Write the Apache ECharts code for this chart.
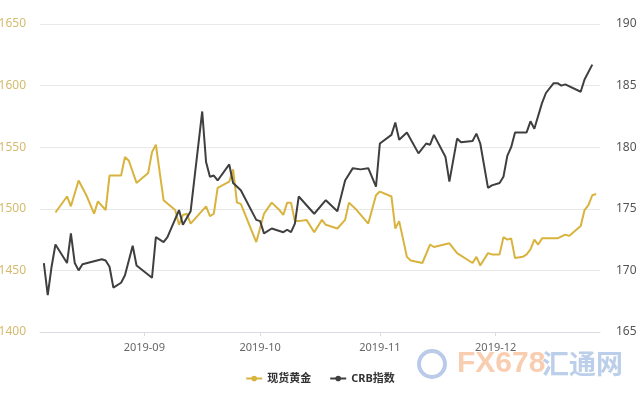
<!DOCTYPE html>
<html lang="zh">
<head>
    <meta charset="UTF-8">
    <title>现货黄金 与 CRB指数</title>
    <style>
        html, body { margin: 0; padding: 0; background: #fff; }
        #main { width: 640px; height: 400px; }
    </style>
</head>
<body>
<div id="main"></div>
<script src="https://cdn.jsdelivr.net/npm/echarts@6/dist/echarts.min.js"></script>
<script type="text/javascript">
    // 现货黄金
    var goldDates = ['2019-08-09', '2019-08-12', '2019-08-13', '2019-08-15', '2019-08-17', '2019-08-19', '2019-08-20',
        '2019-08-22', '2019-08-23', '2019-08-26', '2019-08-27', '2019-08-28', '2019-08-30', '2019-09-02',
        '2019-09-03', '2019-09-04', '2019-09-06', '2019-09-09', '2019-09-10', '2019-09-11', '2019-09-12',
        '2019-09-13', '2019-09-17', '2019-09-18', '2019-09-19', '2019-09-20', '2019-09-23', '2019-09-24',
        '2019-09-25', '2019-09-26', '2019-09-30', '2019-10-02', '2019-10-04', '2019-10-06', '2019-10-07',
        '2019-10-08', '2019-10-09', '2019-10-10', '2019-10-11', '2019-10-13', '2019-10-15', '2019-10-17',
        '2019-10-18', '2019-10-21', '2019-10-23', '2019-10-24', '2019-10-26', '2019-10-29', '2019-10-31',
        '2019-11-01', '2019-11-04', '2019-11-05', '2019-11-06', '2019-11-08', '2019-11-09', '2019-11-12',
        '2019-11-14', '2019-11-15', '2019-11-19', '2019-11-21', '2019-11-25', '2019-11-26', '2019-11-27',
        '2019-11-29', '2019-11-30', '2019-12-02', '2019-12-03', '2019-12-04', '2019-12-05', '2019-12-06',
        '2019-12-08', '2019-12-09', '2019-12-10', '2019-12-11', '2019-12-12', '2019-12-13', '2019-12-17',
        '2019-12-19', '2019-12-20', '2019-12-23', '2019-12-24', '2019-12-25', '2019-12-26', '2019-12-27'];
    var goldValues = [1497, 1510, 1502, 1523, 1511, 1496, 1506,
        1499, 1527, 1527, 1542, 1539, 1521, 1529,
        1546, 1552, 1507, 1499, 1487, 1495, 1496,
        1488, 1502, 1494, 1496, 1517, 1522, 1532,
        1505, 1504, 1473, 1496, 1505, 1499, 1495,
        1505, 1505, 1490, 1490, 1491, 1481, 1491,
        1487, 1484, 1491, 1505, 1499, 1488, 1511,
        1514, 1510, 1484, 1490, 1461, 1458, 1456,
        1471, 1469, 1472, 1464, 1456, 1461, 1454,
        1464, 1463, 1463, 1477, 1475, 1476, 1460,
        1461, 1463, 1467, 1475, 1471, 1476, 1476,
        1479, 1478, 1486, 1499, 1503, 1511, 1512];

    // CRB指数
    var crbDates = ['2019-08-06', '2019-08-07', '2019-08-08', '2019-08-09', '2019-08-12', '2019-08-13', '2019-08-14',
        '2019-08-15', '2019-08-16', '2019-08-21', '2019-08-22', '2019-08-23', '2019-08-24', '2019-08-26',
        '2019-08-27', '2019-08-29', '2019-08-30', '2019-09-03', '2019-09-04', '2019-09-06', '2019-09-07',
        '2019-09-10', '2019-09-11', '2019-09-13', '2019-09-16', '2019-09-17', '2019-09-18', '2019-09-19',
        '2019-09-20', '2019-09-23', '2019-09-24', '2019-09-26', '2019-09-30', '2019-10-01', '2019-10-02',
        '2019-10-04', '2019-10-05', '2019-10-07', '2019-10-08', '2019-10-09', '2019-10-10', '2019-10-11',
        '2019-10-15', '2019-10-18', '2019-10-21', '2019-10-23', '2019-10-25', '2019-10-27', '2019-10-29',
        '2019-10-31', '2019-11-01', '2019-11-04', '2019-11-05', '2019-11-06', '2019-11-08', '2019-11-11',
        '2019-11-13', '2019-11-14', '2019-11-15', '2019-11-18', '2019-11-19', '2019-11-21', '2019-11-22',
        '2019-11-25', '2019-11-26', '2019-11-27', '2019-11-29', '2019-11-30', '2019-12-02', '2019-12-03',
        '2019-12-04', '2019-12-05', '2019-12-06', '2019-12-09', '2019-12-10', '2019-12-11', '2019-12-13',
        '2019-12-14', '2019-12-16', '2019-12-17', '2019-12-18', '2019-12-19', '2019-12-23', '2019-12-24',
        '2019-12-26'];
    var crbValues = [170.6, 168.0, 170.3, 172.1, 170.6, 173.0, 170.6,
        170.0, 170.5, 170.9, 170.8, 170.3, 168.6, 169.0,
        169.6, 172.0, 170.4, 169.4, 172.7, 172.3, 172.7,
        174.9, 173.7, 174.8, 182.9, 178.8, 177.6, 177.7,
        177.3, 178.6, 177.1, 176.5, 174.1, 174.0, 173.0,
        173.4, 173.3, 173.1, 173.3, 173.1, 173.8, 176.0,
        174.6, 175.7, 174.8, 177.3, 178.3, 178.2, 178.3,
        176.8, 180.3, 181.0, 182.0, 180.6, 181.2, 179.5,
        180.3, 180.2, 181.0, 179.2, 177.2, 180.7, 180.4,
        180.5, 181.1, 180.3, 176.7, 176.9, 177.1, 177.6,
        179.3, 180.0, 181.2, 181.2, 182.1, 181.5, 183.6,
        184.4, 185.2, 185.2, 185.0, 185.1, 184.5, 185.5,
        186.7];

    var leftTicks = {min: 1400, max: 1650, step: 50};
    var rightTicks = {min: 165, max: 190, step: 5};

    function pairs(dates, values) {
        return dates.map(function (d, i) {
            return [d, values[i]];
        });
    }

    var myChart = echarts.init(document.getElementById('main'));
    var option = {
        animation: false,
        color: ['#d8b43e', '#3f3f3f'],
        textStyle: {fontFamily: '"Noto Sans", "Noto Sans CJK SC", sans-serif'},
        grid: {left: 40, right: 40, top: 24, bottom: 68, containLabel: false, outerBoundsMode: 'none'},
        legend: {
            top: 368,
            left: 'center',
            itemWidth: 16,
            itemHeight: 7,
            itemGap: 18,
            textStyle: {color: '#333', fontSize: 11, fontWeight: 'bold'},
            data: ['现货黄金', 'CRB指数']
        },
        xAxis: {
            type: 'time',
            min: '2019-08-05',
            max: '2019-12-28',
            splitNumber: 4,
            axisLine: {lineStyle: {color: '#d9dde3'}},
            axisTick: {show: true, length: 4, lineStyle: {color: '#d9dde3'}},
            splitLine: {show: false},
            axisLabel: {
                color: '#666',
                fontSize: 11,
                margin: 10,
                formatter: function (val) {
                    return echarts.time.format(val, '{yyyy}-{MM}', false);
                }
            }
        },
        yAxis: [
            {
                type: 'value',
                min: leftTicks.min,
                max: leftTicks.max,
                interval: leftTicks.step,
                axisLine: {show: false},
                axisTick: {show: false},
                splitLine: {lineStyle: {color: '#e8e8e8'}},
                axisLabel: {
                    color: '#d4bb6e',
                    fontSize: 12,
                    margin: 14,
                    formatter: function (v) { return String(v); }
                }
            },
            {
                type: 'value',
                min: rightTicks.min,
                max: rightTicks.max,
                interval: rightTicks.step,
                axisLine: {show: false},
                axisTick: {show: false},
                splitLine: {show: false},
                axisLabel: {color: '#555', fontSize: 12, margin: 16}
            }
        ],
        series: [
            {
                name: '现货黄金',
                type: 'line',
                yAxisIndex: 0,
                symbol: 'circle',
                symbolSize: 6,
                showSymbol: false,
                lineStyle: {width: 2},
                data: pairs(goldDates, goldValues)
            },
            {
                name: 'CRB指数',
                type: 'line',
                yAxisIndex: 1,
                symbol: 'circle',
                symbolSize: 6,
                showSymbol: false,
                lineStyle: {width: 2},
                data: pairs(crbDates, crbValues)
            }
        ],
        graphic: [
            {
                type: 'circle',
                shape: {cx: 432, cy: 364, r: 13},
                style: {fill: 'none', stroke: '#b9cbe8', lineWidth: 4},
                silent: true
            },
            {
                type: 'text',
                left: 457,
                top: 349,
                silent: true,
                style: {text: 'FX678', fill: '#f9cdb0', font: 'bold 30px "Liberation Sans Narrow", "Liberation Sans", sans-serif'}
            },
            {
                type: 'text',
                left: 542,
                top: 350,
                silent: true,
                style: {text: '汇通网', fill: '#bccfea', font: 'bold 27px "Noto Sans CJK SC", sans-serif'}
            }
        ]
    };
    myChart.setOption(option);
</script>
</body>
</html>
